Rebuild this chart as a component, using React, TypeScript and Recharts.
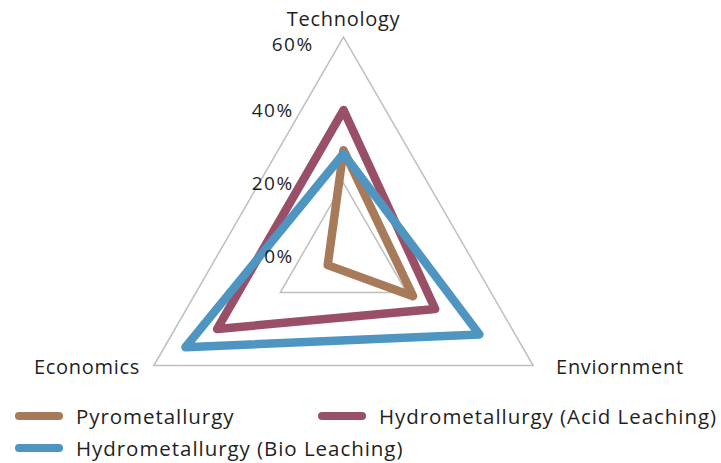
import { RadarChart, Radar, PolarGrid, PolarAngleAxis, PolarRadiusAxis, Legend } from 'recharts';

const categories = ['Technology', 'Enviornment', 'Economics'];
const pyrometallurgy = [29, 22, 5];
const acidLeaching = [40, 29, 40];
const bioLeaching = [28, 43, 50];
const radiusTicks = [0, 20, 40, 60];
const gridValues = [20, 60];

const seriesList = [
  { key: 'pyro', name: 'Pyrometallurgy', color: '#A77A5A' },
  { key: 'acid', name: 'Hydrometallurgy (Acid Leaching)', color: '#9A4F68' },
  { key: 'bio', name: 'Hydrometallurgy (Bio Leaching)', color: '#4E96C1' },
];

const data = categories.map((c, i) => ({
  name: c,
  pyro: pyrometallurgy[i],
  acid: acidLeaching[i],
  bio: bioLeaching[i],
}));

const FONT = '"Open Sans", sans-serif';
const TEXT = '#1F1F1F';
const OUTER = 219;
const MAX = radiusTicks[radiusTicks.length - 1];

// axis category labels
function AngleTick(props: any) {
  const { x, y, payload, textAnchor } = props;
  let dx = 0;
  let dy = 0;
  if (textAnchor === 'middle') dy = -3;
  else if (textAnchor === 'start') { dx = 16; dy = 4; }
  else { dx = -7; dy = 4; }
  return (
    <text x={x + dx} y={y + dy} textAnchor={textAnchor} fill={TEXT} fontSize={20} letterSpacing={0.7} fontFamily={FONT}>
      {payload.value}
    </text>
  );
}

// percent labels left of the top axis
function RadiusTick(props: any) {
  const { x, y, payload } = props;
  const top = payload.value === MAX;
  return (
    <text x={x + (top ? -30 : -50)} y={y + (top ? 7 : 0)} dy={7} textAnchor="end" fill={TEXT} fontSize={19} letterSpacing={1.4} fontFamily={FONT}>
      {payload.value}%
    </text>
  );
}

function LegendBox() {
  return (
    <div style={{ display: 'grid', gridTemplateColumns: '303px 418px', rowGap: 8, fontFamily: FONT, fontSize: 20.5, letterSpacing: 0.95, color: TEXT }}>
      {seriesList.map(s => (
        <div key={s.key} style={{ display: 'flex', alignItems: 'center', height: 24 }}>
          <span style={{ display: 'inline-block', flexShrink: 0, width: 48, height: 8, borderRadius: 4, background: s.color, marginLeft: 15, marginRight: 13 }} />
          <span style={{ whiteSpace: 'nowrap' }}>{s.name}</span>
        </div>
      ))}
    </div>
  );
}

export default function App() {
  return (
    <div style={{ position: 'absolute', left: 0, top: 0, background: '#fff' }}>
      <RadarChart
        width={721}
        height={463}
        data={data}
        cx={343.5}
        cy={256}
        outerRadius={OUTER}
        startAngle={90}
        endAngle={-270}
        margin={{ top: 0, right: 0, bottom: 0, left: 0 }}
      >
        <PolarGrid
          gridType="polygon"
          radialLines={false}
          polarRadius={gridValues.map(v => (v / MAX) * OUTER)}
          stroke="#BFBFBF"
          strokeWidth={1.5}
        />
        <PolarAngleAxis dataKey="name" tick={<AngleTick />} axisLine={false} tickLine={false} />
        <PolarRadiusAxis
          angle={90}
          domain={[0, MAX]}
          ticks={radiusTicks}
          tickCount={radiusTicks.length}
          axisLine={false}
          tickLine={false}
          tick={<RadiusTick />}
        />
        {seriesList.map(s => (
          <Radar
            key={s.key}
            dataKey={s.key}
            name={s.name}
            stroke={s.color}
            strokeWidth={8.5}
            strokeLinejoin="round"
            fill="none"
            fillOpacity={0}
            dot={false}
            isAnimationActive={false}
          />
        ))}
        <Legend
          content={<LegendBox />}
          wrapperStyle={{ position: 'absolute', left: 0, top: 404, width: 721 }}
        />
      </RadarChart>
    </div>
  );
}
